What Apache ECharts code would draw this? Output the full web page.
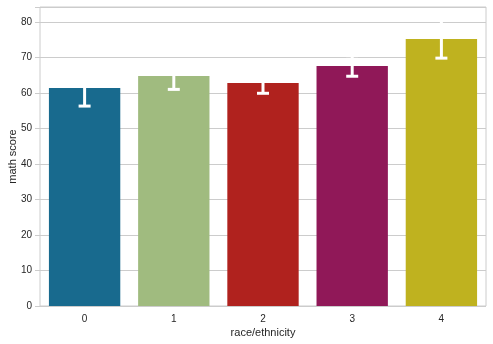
<!DOCTYPE html>
<html><head><meta charset="utf-8">
<script src="https://cdn.jsdelivr.net/npm/echarts@6/dist/echarts.min.js"></script>
<style>html,body{margin:0;padding:0;background:#fff}#c{width:493px;height:344px}</style>
</head><body><div id="c"></div>
<script>
const categories = ['0','1','2','3','4'];
const meanScores = [61.4, 64.8, 62.8, 67.6, 75.2];
const errLow = [56.3, 61.0, 59.9, 64.7, 69.8];
const errHigh = [66.5, 68.6, 65.7, 70.5, 80.6];
const colors = ['#186a8e', '#a0bb7f', '#b0221e', '#901858', '#bfb21f'];
const yTicks = [0,10,20,30,40,50,60,70,80];

const chart = echarts.init(document.getElementById('c'), null, {renderer:'canvas'});
const font = 'Liberation Sans, Arial, sans-serif';
chart.setOption({
  animation:false,
  backgroundColor:'#fff',
  grid:{left:40, right:7, top:7, bottom:38, containLabel:false, outerBoundsMode:'none',
    show:true, borderColor:'#cccccc', borderWidth:1},
  xAxis:{type:'category', data:categories,
    axisLine:{show:false}, axisTick:{show:false},
    axisLabel:{color:'#262626', fontSize:10, fontFamily:font, margin:8},
    name:'race/ethnicity', nameLocation:'middle', nameGap:21, nameMoveOverlap:false,
    nameTextStyle:{color:'#262626', fontSize:11, fontFamily:font}},
  yAxis:{type:'value', min:0, max:84.2, interval:10,
    axisLine:{show:false},
    axisTick:{show:true, length:5, lineStyle:{color:'#cccccc'}},
    splitLine:{lineStyle:{color:'#cccccc', width:1}},
    axisLabel:{color:'#262626', fontSize:10, fontFamily:font, margin:8,
      formatter: v => yTicks.includes(v) ? String(v) : ''},
    name:'math score', nameLocation:'middle', nameGap:22, nameMoveOverlap:false,
    nameTextStyle:{color:'#262626', fontSize:11, fontFamily:font}},
  series:[
    {type:'bar', barWidth:'80%', data: meanScores.map((v,i)=>({value:v, itemStyle:{color:colors[i]}})), z:2},
    {type:'custom', z:5, data: categories.map((c,i)=>[i, errLow[i], errHigh[i]]),
      renderItem:(params, api)=>{
        const lo = api.coord([api.value(0), api.value(1)]);
        const hi = api.coord([api.value(0), api.value(2)]);
        const hw = 6;
        const st = {stroke:'#ffffff', lineWidth:3, lineCap:'butt'};
        return {type:'group', children:[
          {type:'line', shape:{x1:lo[0], y1:lo[1], x2:hi[0], y2:hi[1]}, style:st},
          {type:'line', shape:{x1:lo[0]-hw, y1:lo[1], x2:lo[0]+hw, y2:lo[1]}, style:st},
          {type:'line', shape:{x1:hi[0]-hw, y1:hi[1], x2:hi[0]+hw, y2:hi[1]}, style:st}
        ]};
      }}
  ]
});
</script></body></html>
